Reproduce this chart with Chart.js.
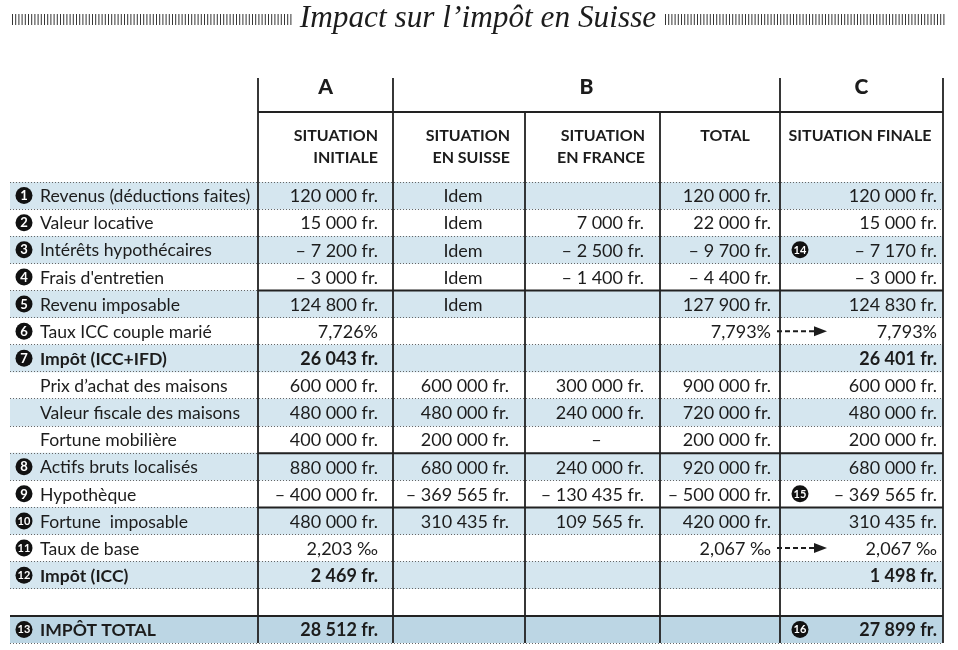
<!DOCTYPE html>
<html lang="fr">
<head>
<meta charset="utf-8">
<title>Impact sur l’impôt en Suisse</title>
<script src="https://cdn.jsdelivr.net/npm/chart.js@4.4.1/dist/chart.umd.min.js"></script>
<style>
  html, body { margin: 0; padding: 0; background: #fff; }
  #wrap { width: 958px; height: 650px; position: relative; }
</style>
</head>
<body>
<div id="wrap"><canvas id="chart"></canvas></div>
<script>
// --- data -------------------------------------------------------------
const title = 'Impact sur l’impôt en Suisse';
const groupHeaders = ['A', 'B', 'C'];
const columnHeaders = [
  ['SITUATION', 'INITIALE'],
  ['SITUATION', 'EN SUISSE'],
  ['SITUATION', 'EN FRANCE'],
  ['TOTAL'],
  ['SITUATION FINALE']
];
const rowLabels = [
  'Revenus (déductions faites)', 'Valeur locative', 'Intérêts hypothécaires',
  'Frais d\'entretien', 'Revenu imposable', 'Taux ICC couple marié',
  'Impôt (ICC+IFD)', 'Prix d’achat des maisons', 'Valeur fiscale des maisons',
  'Fortune mobilière', 'Actifs bruts localisés', 'Hypothèque',
  'Fortune  imposable', 'Taux de base', 'Impôt (ICC)', '', 'IMPÔT TOTAL'
];
const rowNumbers = [1, 2, 3, 4, 5, 6, 7, null, null, null, 8, 9, 10, 11, 12, null, 13];
const rowUnits = ['fr', 'fr', 'fr', 'fr', 'fr', '%', 'fr', 'fr', 'fr', 'fr', 'fr', 'fr', 'fr', '‰', 'fr', null, 'fr'];
const boldRows = [6, 14, 16];
const shadedRows = [0, 2, 4, 6, 8, 10, 12, 14, 16];
const totalRow = 16;

const situationInitiale = [120000, 15000, -7200, -3000, 124800, 7.726, 26043, 600000, 480000, 400000, 880000, -400000, 480000, 2.203, 2469, null, 28512];
const situationSuisse = ['Idem', 'Idem', 'Idem', 'Idem', 'Idem', null, null, 600000, 480000, 200000, 680000, -369565, 310435, null, null, null, null];
const situationFrance = [null, 7000, -2500, -1400, null, null, null, 300000, 240000, '–', 240000, -130435, 109565, null, null, null, null];
const totalB = [120000, 22000, -9700, -4400, 127900, 7.793, null, 900000, 720000, 200000, 920000, -500000, 420000, 2.067, null, null, null];
const situationFinale = [120000, 15000, -7170, -3000, 124830, 7.793, 26401, 600000, 480000, 200000, 680000, -369565, 310435, 2.067, 1498, null, 27899];

const noteRows = [2, 11, 16];
const noteNumbers = [14, 15, 16];
const carriedRows = [5, 13];   // rate carried from B total to C

// --- layout (x units of the linear axis) -------------------------------
const colEdges = [0, 248, 383, 515, 650, 770, 933];
const valueRight = [368, 499, 634, 761, 927];
const headerPos = [['right', 368], ['right', 500], ['right', 635], ['center', 715], ['center', 850]];
const columns = [situationInitiale, situationSuisse, situationFrance, totalB, situationFinale];

const FONT = 'Lato, "Noto Sans", sans-serif';
const INK = '#1c1c1c';

function formatValue(v, unit) {
  if (v === null || v === undefined) return '';
  if (typeof v === 'string') return v;
  if (unit === '%') return v.toFixed(3).replace('.', ',') + '%';
  if (unit === '‰') return v.toFixed(3).replace('.', ',') + ' ‰';
  const s = Math.abs(v).toString().replace(/\B(?=(\d{3})+(?!\d))/g, ' ');
  return (v < 0 ? '– ' : '') + s + ' fr.';
}

function badge(ctx, cx, cy, n) {
  ctx.beginPath();
  ctx.arc(cx, cy, 8.5, 0, Math.PI * 2);
  ctx.fillStyle = '#111';
  ctx.fill();
  ctx.fillStyle = '#fff';
  ctx.font = (n > 9 ? 'bold 11px ' : 'bold 13px ') + FONT;
  ctx.textAlign = 'center';
  ctx.textBaseline = 'middle';
  ctx.fillText(String(n), cx, cy + 0.5);
}

const tablePlugin = {
  id: 'tableText',
  afterDraw(chart) {
    const { ctx, chartArea: area, scales: { x, y } } = chart;
    const px = v => x.getPixelForValue(v);
    const rowTop = i => y.getPixelForValue(i - 0.5);
    const rowMid = i => y.getPixelForValue(i) + 1;
    const top = area.top;

    ctx.save();

    // title + hatching
    let size = 28;
    ctx.font = 'italic ' + size + 'px "Liberation Serif", serif';
    size = size * 357 / ctx.measureText(title).width;
    ctx.font = 'italic ' + size.toFixed(1) + 'px "Liberation Serif", serif';
    ctx.fillStyle = INK;
    ctx.textAlign = 'center';
    ctx.textBaseline = 'alphabetic';
    ctx.fillText(title, 478, 27);
    ctx.strokeStyle = '#333';
    ctx.lineWidth = 1;
    ctx.beginPath();
    for (let hx = 12.5; hx < 294; hx += 3.2) { ctx.moveTo(hx, 14); ctx.lineTo(hx, 25); }
    for (let hx = 665.5; hx < 945; hx += 3.2) { ctx.moveTo(hx, 14); ctx.lineTo(hx, 25); }
    ctx.stroke();

    // group headers A / B / C
    ctx.font = '900 21px ' + FONT;
    ctx.textBaseline = 'middle';
    ctx.textAlign = 'center';
    ctx.fillText(groupHeaders[0], (px(colEdges[1]) + px(colEdges[2])) / 2, top - 95);
    ctx.fillText(groupHeaders[1], (px(colEdges[2]) + px(colEdges[5])) / 2, top - 95);
    ctx.fillText(groupHeaders[2], (px(colEdges[5]) + px(colEdges[6])) / 2, top - 95);

    // column headers
    ctx.font = 'bold 16px ' + FONT;
    columnHeaders.forEach((lines, c) => {
      ctx.textAlign = headerPos[c][0];
      lines.forEach((t, k) => ctx.fillText(t, px(headerPos[c][1]), top - 46 + k * 22));
    });

    // rows
    rowLabels.forEach((label, i) => {
      const yy = rowMid(i);
      const bold = boldRows.includes(i);
      if (rowNumbers[i]) badge(ctx, 24, yy - 1, rowNumbers[i]);
      ctx.fillStyle = INK;
      ctx.font = (bold ? 'bold ' : '') + '17.6px ' + FONT;
      ctx.textAlign = 'left';
      ctx.textBaseline = 'middle';
      ctx.fillText(label, px(30), yy);
      ctx.font = (bold ? 'bold ' : '') + '18px ' + FONT;
      columns.forEach((col, c) => {
        const v = col[i];
        const txt = formatValue(v, rowUnits[i]);
        if (!txt) return;
        if (typeof v === 'string') {
          ctx.textAlign = 'center';
          ctx.fillText(txt, (px(colEdges[c + 1]) + px(colEdges[c + 2])) / 2 + 4, yy);
        } else {
          ctx.textAlign = 'right';
          ctx.fillText(txt, px(valueRight[c]), yy);
        }
      });
    });

    // footnote badges in final column
    noteRows.forEach((r, k) => badge(ctx, px(colEdges[5]) + 20, rowMid(r) - 1, noteNumbers[k]));

    // carried-rate arrows
    carriedRows.forEach(r => {
      const yy = rowMid(r) - 1;
      const x0 = px(valueRight[3]) + 6, tip = px(colEdges[5]) + 47;
      ctx.strokeStyle = INK;
      ctx.lineWidth = 2;
      ctx.setLineDash([5, 3]);
      ctx.beginPath(); ctx.moveTo(x0, yy); ctx.lineTo(tip - 11, yy); ctx.stroke();
      ctx.setLineDash([]);
      ctx.beginPath();
      ctx.moveTo(tip, yy); ctx.lineTo(tip - 13, yy - 5); ctx.lineTo(tip - 13, yy + 5); ctx.closePath();
      ctx.fillStyle = INK; ctx.fill();
    });

    // solid rules
    ctx.strokeStyle = '#222';
    ctx.lineWidth = 2;
    ctx.beginPath();
    ctx.moveTo(px(colEdges[1]), top - 70); ctx.lineTo(px(colEdges[6]), top - 70);
    [4, 10, 12].forEach(r => { ctx.moveTo(px(colEdges[1]), rowTop(r)); ctx.lineTo(px(colEdges[6]), rowTop(r)); });
    ctx.moveTo(px(colEdges[0]), rowTop(totalRow)); ctx.lineTo(px(colEdges[6]), rowTop(totalRow));
    ctx.stroke();

    ctx.lineWidth = 1.8;
    ctx.beginPath();
    [1, 2, 5, 6].forEach(e => { ctx.moveTo(px(colEdges[e]), top - 104); ctx.lineTo(px(colEdges[e]), area.bottom); });
    [3, 4].forEach(e => { ctx.moveTo(px(colEdges[e]), top - 70); ctx.lineTo(px(colEdges[e]), area.bottom); });
    ctx.stroke();

    ctx.restore();
  }
};

new Chart(document.getElementById('chart'), {
  type: 'bar',
  data: {
    labels: rowLabels,
    datasets: [{
      data: rowLabels.map((_, i) => shadedRows.includes(i) ? [colEdges[0], colEdges[colEdges.length - 1]] : null),
      backgroundColor: rowLabels.map((_, i) => i === totalRow ? '#bcd6e4' : '#d5e6ef'),
      borderWidth: 0,
      barPercentage: 1,
      categoryPercentage: 1
    }]
  },
  options: {
    indexAxis: 'y',
    responsive: true,
    maintainAspectRatio: false,
    animation: false,
    layout: { padding: { top: 182, bottom: 7, left: 10, right: 15 } },
    plugins: { legend: { display: false }, tooltip: { enabled: false } },
    scales: {
      x: { type: 'linear', display: false, min: colEdges[0], max: colEdges[colEdges.length - 1] },
      y: {
        type: 'category',
        ticks: { display: false },
        grid: { offset: true, color: '#666', lineWidth: 1, drawTicks: false, z: 1 },
        border: { display: false, dash: [1, 2] },
        afterFit(scale) { scale.width = 0; }
      }
    }
  },
  plugins: [tablePlugin]
});
</script>
</body>
</html>
